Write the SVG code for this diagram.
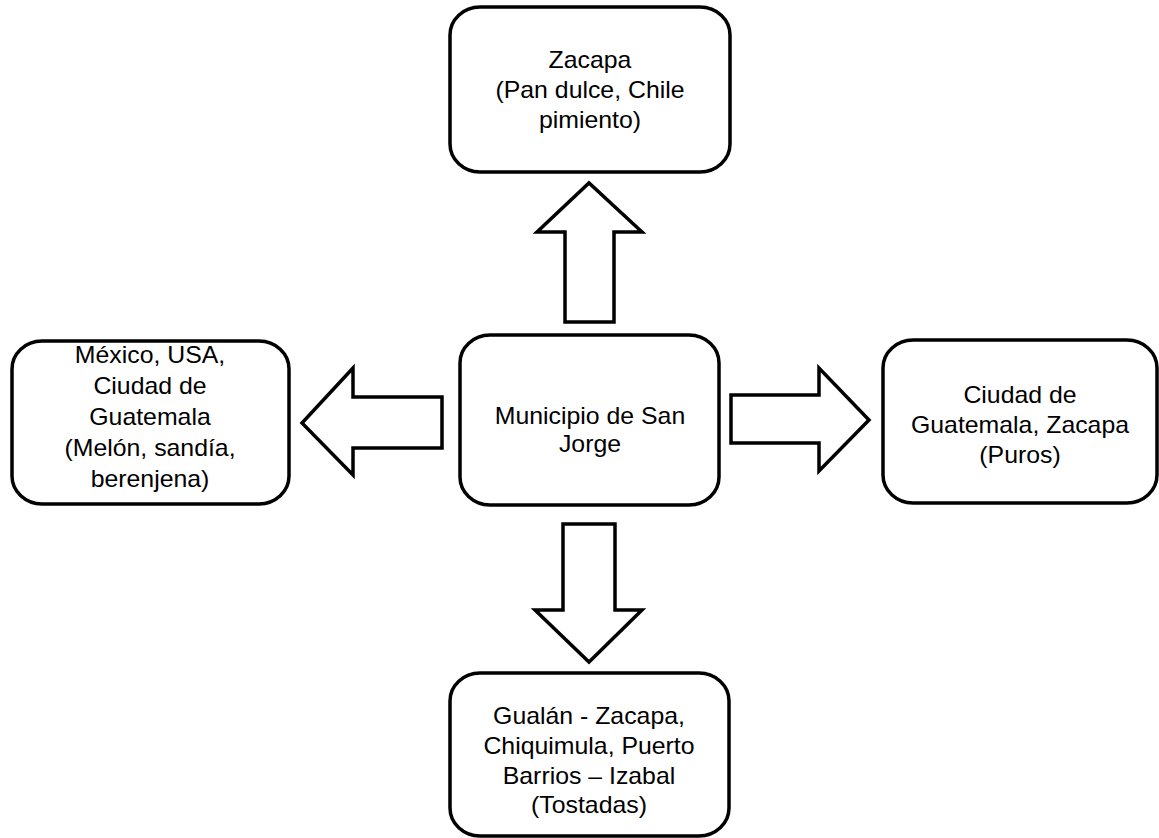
<svg xmlns="http://www.w3.org/2000/svg" width="1159" height="838" viewBox="0 0 1159 838">
<style>
.box{fill:#fff;stroke:#000;stroke-width:3.5}
.arr{fill:#fff;stroke:#000;stroke-width:3.5;stroke-linejoin:miter}
text{font-family:"Liberation Sans",Arial,sans-serif;font-size:23px;fill:#000;text-anchor:middle}
</style>
<rect width="1159" height="838" fill="#fff"/>
<g id="connectors">
<polygon class="arr" points="565,322 614,322 614,232 642,232 589,183 537,232 565,232"/>
<polygon class="arr" points="442,397 442,448 353,448 353,475 302,423 353,368 353,397"/>
<polygon class="arr" points="731,395 731,443 819,443 819,471 869,420 819,368 819,395"/>
<polygon class="arr" points="563,524 615,524 615,610 642,610 589,662 535,610 563,610"/>
</g>
<g id="node-top">
<rect class="box" x="450" y="7" width="280" height="165" rx="30" ry="28"/>
<text transform="matrix(1.08 0 0 1 590 0)" x="0" y="68">Zacapa</text>
<text transform="matrix(1.08 0 0 1 590 0)" x="0" y="98">(Pan dulce, Chile</text>
<text transform="matrix(1.08 0 0 1 590 0)" x="0" y="128">pimiento)</text>
</g>
<g id="node-left">
<rect class="box" x="12" y="341" width="277" height="163" rx="30" ry="28"/>
<text transform="matrix(1.08 0 0 1 150 0)" x="0" y="363">México, USA,</text>
<text transform="matrix(1.08 0 0 1 150 0)" x="0" y="394">Ciudad de</text>
<text transform="matrix(1.08 0 0 1 150 0)" x="0" y="425">Guatemala</text>
<text transform="matrix(1.08 0 0 1 150 0)" x="0" y="456">(Melón, sandía,</text>
<text transform="matrix(1.08 0 0 1 150 0)" x="0" y="487">berenjena)</text>
</g>
<g id="node-center">
<rect class="box" x="460" y="335" width="259" height="170" rx="30" ry="28"/>
<text transform="matrix(1.08 0 0 1 590 0)" x="0" y="424">Municipio de San</text>
<text transform="matrix(1.08 0 0 1 590 0)" x="0" y="452">Jorge</text>
</g>
<g id="node-right">
<rect class="box" x="883" y="340" width="274" height="163" rx="30" ry="28"/>
<text transform="matrix(1.08 0 0 1 1020 0)" x="0" y="403">Ciudad de</text>
<text transform="matrix(1.08 0 0 1 1020 0)" x="0" y="433">Guatemala, Zacapa</text>
<text transform="matrix(1.08 0 0 1 1020 0)" x="0" y="463">(Puros)</text>
</g>
<g id="node-bottom">
<rect class="box" x="450" y="673" width="279" height="163" rx="30" ry="28"/>
<text transform="matrix(1.08 0 0 1 589 0)" x="0" y="724">Gualán - Zacapa,</text>
<text transform="matrix(1.08 0 0 1 589 0)" x="0" y="754">Chiquimula, Puerto</text>
<text transform="matrix(1.08 0 0 1 589 0)" x="0" y="784">Barrios – Izabal</text>
<text transform="matrix(1.08 0 0 1 589 0)" x="0" y="813">(Tostadas)</text>
</g>
</svg>
